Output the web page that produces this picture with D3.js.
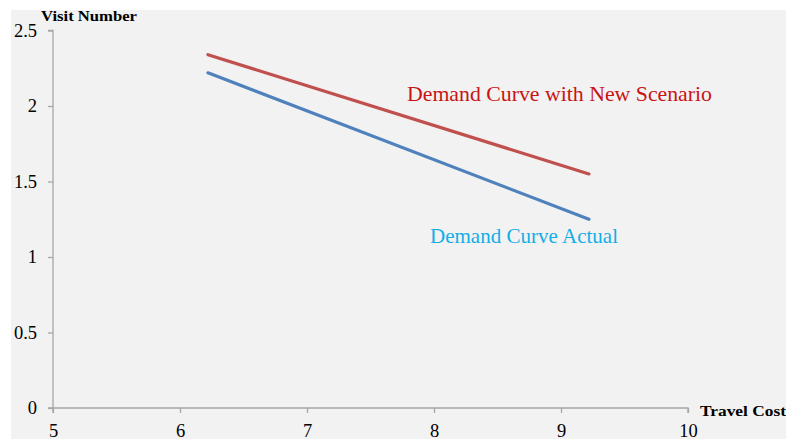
<!DOCTYPE html>
<html><head><meta charset="utf-8">
<script src="https://cdn.jsdelivr.net/npm/d3@7"></script>
<style>
html,body{margin:0;padding:0;background:#fff;overflow:hidden}
svg{display:block}
text{font-family:"Liberation Serif","Times New Roman",serif}
</style></head><body>
<svg id="c" width="786" height="439"></svg>
<script>
const xTicks = [5, 6, 7, 8, 9, 10];
const yTicks = [0, 0.5, 1, 1.5, 2, 2.5];
const travelCost = [6.22, 9.22];
const newScenario = [2.34, 1.55];
const actual = [2.22, 1.25];
const seriesNames = ["Demand Curve with New Scenario", "Demand Curve Actual"];

const svg = d3.select("#c");
svg.append("rect").attr("x", 11).attr("y", 10).attr("width", 775).attr("height", 429).attr("fill", "#f2f2f2");

const x = d3.scaleLinear().domain([5, 10]).range([53, 688]);
const y = d3.scaleLinear().domain([0, 2.5]).range([408, 30.5]);

const axisColor = "#a6a6a6";
const gx = svg.append("g").attr("transform", "translate(0,408)")
  .call(d3.axisBottom(x).tickValues(xTicks).tickSize(5).tickPadding(11).tickFormat(d3.format("d")));
const gy = svg.append("g").attr("transform", "translate(53,0)")
  .call(d3.axisLeft(y).tickValues(yTicks).tickSize(5).tickPadding(11).tickFormat(d => d));
[gx, gy].forEach(g => {
  g.select(".domain").attr("stroke", axisColor).attr("stroke-width", 1.3);
  g.selectAll(".tick line").attr("stroke", axisColor).attr("stroke-width", 1.3);
  g.selectAll(".tick text").attr("fill", "#000").attr("font-size", 18.5)
    .attr("font-family", "'Liberation Serif','Times New Roman',serif");
});
gx.select(".domain").attr("d", `M${x(5)},5V0H${x(10)}V5`);
gy.select(".domain").attr("d", `M-5,${y(2.5)}H0V${y(0)}H-5`);

const line = d3.line().x(d => x(d[0])).y(d => y(d[1]));
svg.append("path").datum(travelCost.map((c, i) => [c, newScenario[i]]))
  .attr("d", line).attr("fill", "none").attr("stroke", "#c0504d").attr("stroke-width", 3.2).attr("stroke-linecap", "round");
svg.append("path").datum(travelCost.map((c, i) => [c, actual[i]]))
  .attr("d", line).attr("fill", "none").attr("stroke", "#4f81bd").attr("stroke-width", 3.2).attr("stroke-linecap", "round");

svg.append("text").attr("x", 407).attr("y", 101).attr("font-size", 21.5).attr("fill", "#c81414")
  .attr("textLength", 305).attr("lengthAdjust", "spacingAndGlyphs").text(seriesNames[0]);
svg.append("text").attr("x", 430).attr("y", 243).attr("font-size", 21.5).attr("fill", "#12aee8")
  .attr("textLength", 188).attr("lengthAdjust", "spacingAndGlyphs").text(seriesNames[1]);

svg.append("text").attr("x", 41).attr("y", 21).attr("font-size", 15.5).attr("font-weight", "bold").attr("fill", "#000")
  .attr("textLength", 96).attr("lengthAdjust", "spacingAndGlyphs").text("Visit Number");
svg.append("text").attr("x", 700).attr("y", 416).attr("font-size", 15.5).attr("font-weight", "bold").attr("fill", "#000")
  .attr("textLength", 86).attr("lengthAdjust", "spacingAndGlyphs").text("Travel Cost");
</script>
</body></html>
